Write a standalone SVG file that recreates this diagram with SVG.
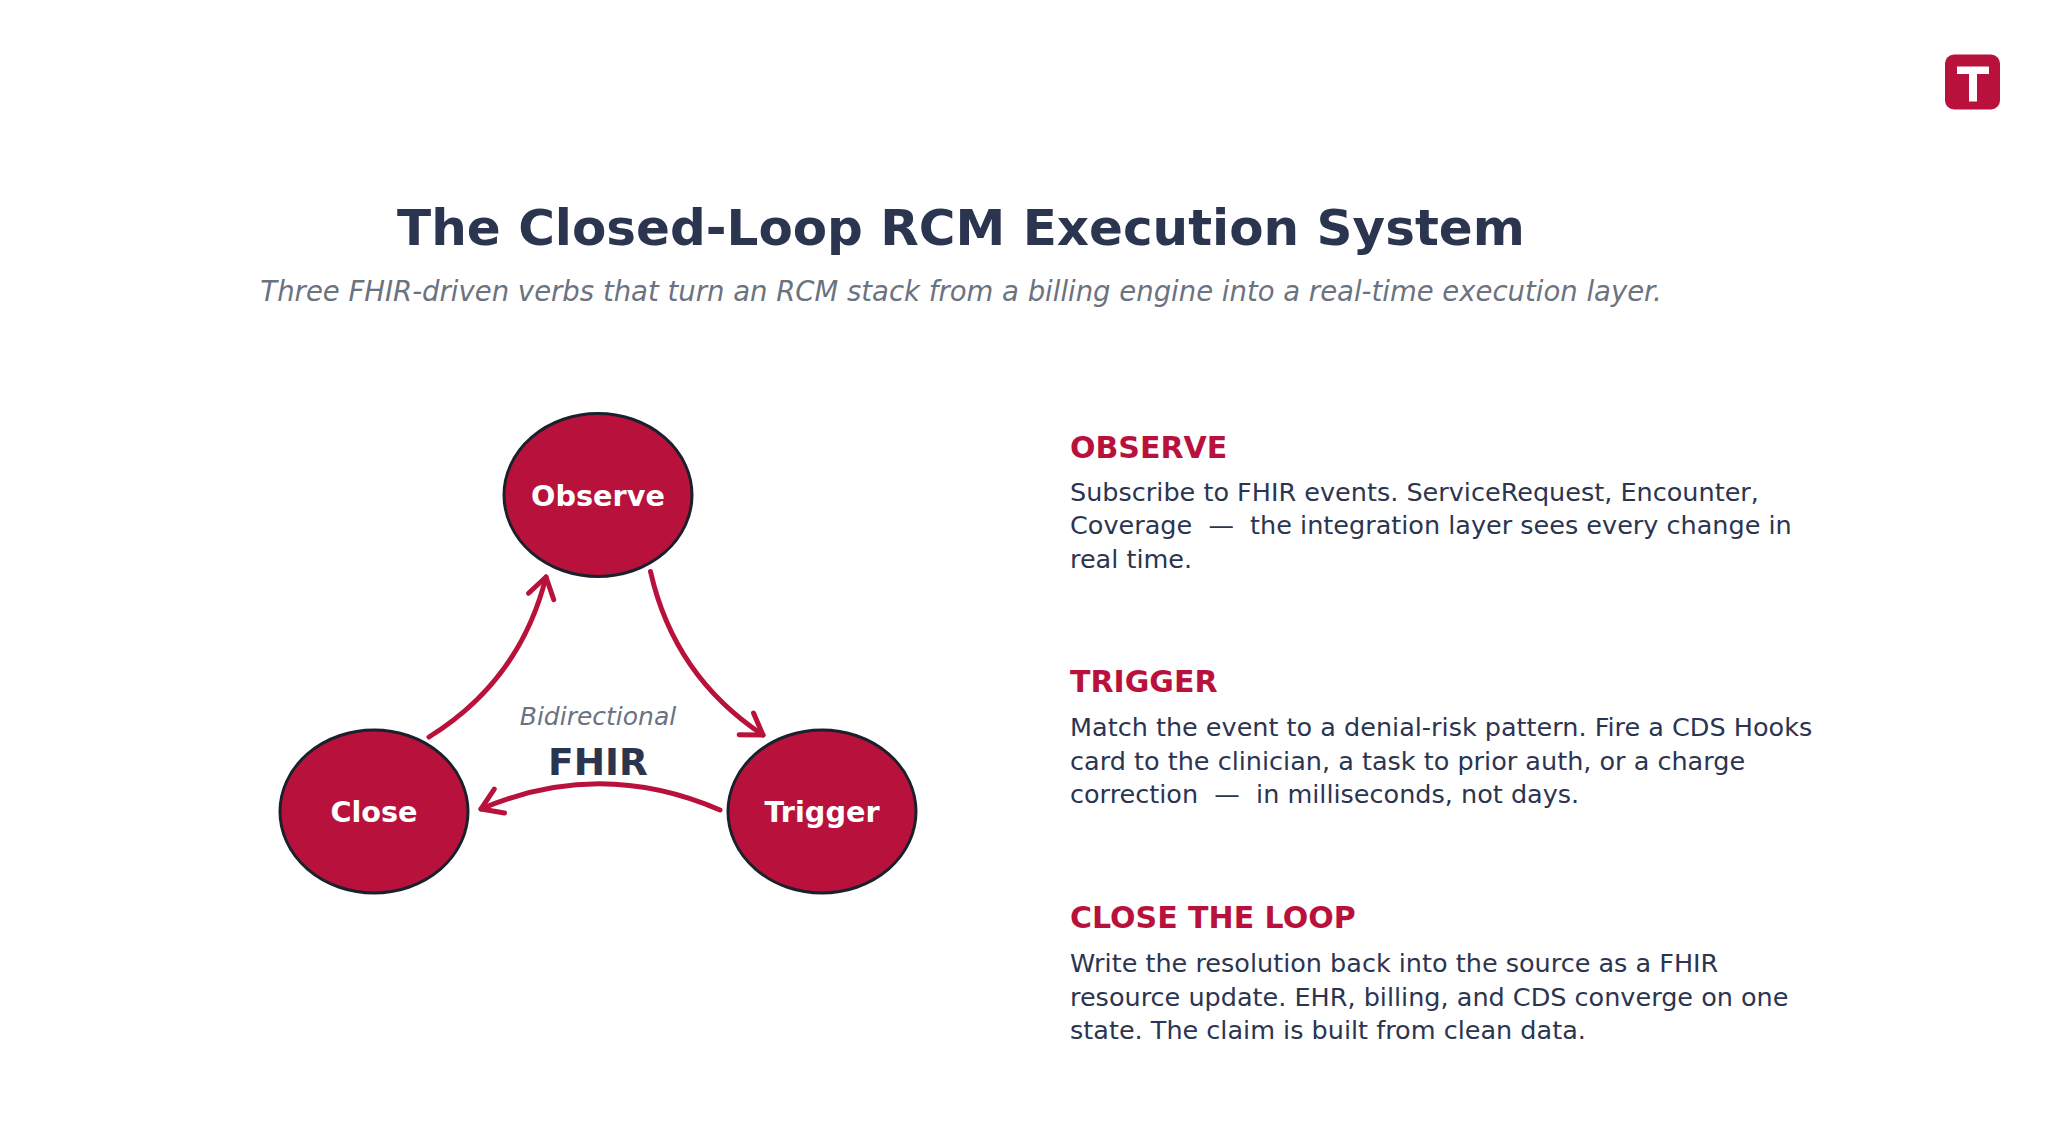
<svg xmlns="http://www.w3.org/2000/svg" width="2055" height="1146" viewBox="0 0 2055 1146">
<style>
text{font-family:"DejaVu Sans",sans-serif;white-space:pre}
.node{fill:#B8123C;stroke:#1A202C;stroke-width:3}
.nl{fill:#fff;font-weight:700;font-size:28.7px;text-anchor:middle}
.c{fill:none;stroke:#B8123C;stroke-width:5;stroke-linecap:round;marker-end:url(#a)}
.h{fill:#B8123C;font-weight:700;font-size:30px}
.b{fill:#2C3550;font-size:25.5px}
</style>
<defs><marker id="a" markerUnits="userSpaceOnUse" markerWidth="40" markerHeight="40" refX="30" refY="20" orient="auto"><path d="M10 7L30 20L10 33" fill="none" stroke="#B8123C" stroke-width="5" stroke-linecap="round" stroke-linejoin="round"/></marker></defs>
<rect width="2055" height="1146" fill="#fff"/>
<g id="logo"><rect x="1945" y="54.500" width="55" height="55" rx="9" fill="#B8123C"/><path d="M1957 66.500H1989V74H1977V101.500H1969V74H1957Z" fill="#fff"/></g>
<text x="961" y="245" text-anchor="middle" font-size="50" font-weight="700" fill="#2C3550">The Closed-Loop RCM Execution System</text>
<text x="961" y="300.500" text-anchor="middle" font-size="27.5" font-style="italic" fill="#6B7280">Three FHIR-driven verbs that turn an RCM stack from a billing engine into a real-time execution layer.</text>
<g id="connectors">
<path class="c" d="M429 737Q520 680.500 546 577"/>
<path class="c" d="M650.500 571.500Q674 676 763 735"/>
<path class="c" d="M720 810Q600 758 481 809"/>
</g>
<g id="observe"><ellipse class="node" cx="598" cy="495" rx="94" ry="81.500"/><text class="nl" x="598" y="505.500">Observe</text></g>
<g id="close"><ellipse class="node" cx="374" cy="811.500" rx="94" ry="81.500"/><text class="nl" x="374" y="821.500">Close</text></g>
<g id="trigger"><ellipse class="node" cx="822" cy="811.500" rx="94" ry="81.500"/><text class="nl" x="822" y="821.500">Trigger</text></g>
<text x="598" y="724.500" text-anchor="middle" font-size="25" font-style="italic" fill="#6B7280">Bidirectional</text>
<text x="598" y="774.500" text-anchor="middle" font-size="37.500" font-weight="700" fill="#2C3550">FHIR</text>
<g id="observe-text"><text class="h" x="1070" y="457.500">OBSERVE</text>
<text class="b" x="1070" y="500.500">Subscribe to FHIR events. ServiceRequest, Encounter,</text>
<text class="b" x="1070" y="534">Coverage  —  the integration layer sees every change in</text>
<text class="b" x="1070" y="567.500">real time.</text></g>
<g id="trigger-text"><text class="h" x="1070" y="692">TRIGGER</text>
<text class="b" x="1070" y="736">Match the event to a denial-risk pattern. Fire a CDS Hooks</text>
<text class="b" x="1070" y="769.500">card to the clinician, a task to prior auth, or a charge</text>
<text class="b" x="1070" y="803">correction  —  in milliseconds, not days.</text></g>
<g id="close-text"><text class="h" x="1070" y="928">CLOSE THE LOOP</text>
<text class="b" x="1070" y="972">Write the resolution back into the source as a FHIR</text>
<text class="b" x="1070" y="1005.500">resource update. EHR, billing, and CDS converge on one</text>
<text class="b" x="1070" y="1039">state. The claim is built from clean data.</text></g>
</svg>
